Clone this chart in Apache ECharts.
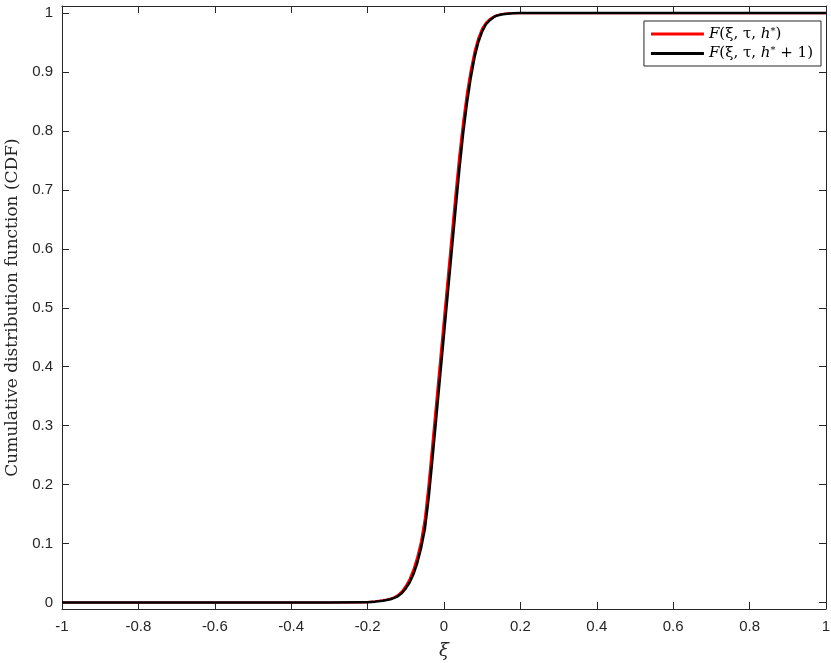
<!DOCTYPE html>
<html>
<head>
<meta charset="utf-8">
<script src="https://cdn.jsdelivr.net/npm/echarts@6/dist/echarts.min.js"></script>
<style>
html,body{margin:0;padding:0;background:#fff;}
#chart{width:831px;height:663px;}
</style>
</head>
<body>
<div id="chart"></div>
<script>
// ---- data ----
var xi = [-1, -0.6, -0.3, -0.22, -0.2, -0.18, -0.16, -0.15, -0.14, -0.13, -0.12, -0.11, -0.1, -0.09, -0.08, -0.07, -0.06, -0.05, -0.04, -0.03, -0.02, -0.01, 0, 0.01, 0.02, 0.03, 0.04, 0.05, 0.06, 0.07, 0.08, 0.09, 0.1, 0.11, 0.12, 0.13, 0.14, 0.15, 0.16, 0.18, 0.2, 0.3, 0.6, 1];
var cdfH = [0, 0, 0, 0.0004, 0.0008, 0.002, 0.0035, 0.0048, 0.0065, 0.009, 0.013, 0.019, 0.028, 0.04, 0.056, 0.077, 0.104, 0.143, 0.203, 0.272, 0.342, 0.412, 0.482, 0.552, 0.622, 0.692, 0.758, 0.815, 0.864, 0.903, 0.935, 0.958, 0.974, 0.984, 0.99, 0.994, 0.9965, 0.998, 0.999, 0.9997, 1, 1, 1, 1];
var cdfH1 = [0, 0, 0, 0.0003, 0.0006, 0.0015, 0.003, 0.0042, 0.0056, 0.0078, 0.011, 0.016, 0.024, 0.034, 0.048, 0.067, 0.092, 0.125, 0.178, 0.245, 0.315, 0.385, 0.455, 0.525, 0.595, 0.665, 0.733, 0.795, 0.847, 0.89, 0.925, 0.951, 0.969, 0.981, 0.988, 0.993, 0.996, 0.9975, 0.9985, 0.9995, 1, 1, 1, 1];
var xTicks = [-1, -0.8, -0.6, -0.4, -0.2, 0, 0.2, 0.4, 0.6, 0.8, 1];
var yTicks = [0, 0.1, 0.2, 0.3, 0.4, 0.5, 0.6, 0.7, 0.8, 0.9, 1];
var seriesNames = ['F(ξ, τ, h*)', 'F(ξ, τ, h* + 1)'];

function pairs(xs, ys){ return xs.map(function(x,i){ return [x, ys[i]]; }); }

var axisColor = '#262626';
var labelFont = {fontFamily: 'Liberation Sans, Arial, sans-serif', fontSize: 15, color: axisColor};

var chart = echarts.init(document.getElementById('chart'), null, {renderer: 'canvas'});
var option = {
  animation: false,
  backgroundColor: '#fff',
  grid: {left: 62, right: 5, top: 6, bottom: 54, containLabel: false, outerBoundsMode: 'none'},
  legend: {
    right: 10, top: 21,
    orient: 'vertical',
    backgroundColor: '#fff',
    borderColor: '#262626', borderWidth: 1,
    padding: [5, 8, 5, 7],
    itemGap: 4,
    itemWidth: 53, itemHeight: 3,
    data: [{name: seriesNames[0], icon: 'rect'}, {name: seriesNames[1], icon: 'rect'}],
    formatter: function(n){
      if (n === seriesNames[0]) return '{i|F}{r|(ξ, τ, }{i|h}{s|*}{r|)}';
      return '{i|F}{r|(ξ, τ, }{i|h}{s|*}{r| + 1)}';
    },
    textStyle: {
      rich: {
        i: {fontFamily: 'DejaVu Serif, Liberation Serif, serif', fontStyle: 'italic', fontSize: 15, color: '#000'},
        r: {fontFamily: 'DejaVu Serif, Liberation Serif, serif', fontSize: 15, color: '#000'},
        s: {fontFamily: 'DejaVu Serif, Liberation Serif, serif', fontSize: 10, color: '#000', verticalAlign: 'top', padding: [0,0,6,0]}
      }
    }
  },
  xAxis: [{
    type: 'value', min: -1, max: 1, interval: 0.2,
    name: 'ξ', nameLocation: 'middle', nameGap: 33,
    nameTextStyle: {fontFamily: 'DejaVu Serif, Liberation Serif, serif', fontStyle: 'italic', fontSize: 18, color: axisColor},
    axisLine: {show: true, onZero: false, lineStyle: {color: axisColor, width: 1}},
    axisTick: {show: true, inside: true, length: 7, lineStyle: {color: axisColor}, customValues: xTicks},
    axisLabel: Object.assign({margin: 10, customValues: xTicks, formatter: function(v){ return String(+v.toFixed(1)); }}, labelFont),
    splitLine: {show: false}
  }, {
    type: 'value', min: -1, max: 1, position: 'top',
    axisLine: {show: true, onZero: false, lineStyle: {color: axisColor, width: 1}},
    axisTick: {show: true, inside: true, length: 7, lineStyle: {color: axisColor}, customValues: xTicks},
    axisLabel: {show: false},
    splitLine: {show: false}
  }],
  yAxis: [{
    type: 'value', min: -0.011, max: 1.012,
    name: 'Cumulative distribution function (CDF)', nameLocation: 'middle', nameGap: 35,
    nameTextStyle: {fontFamily: 'DejaVu Serif, Liberation Serif, serif', fontSize: 17, color: axisColor},
    axisLine: {show: true, onZero: false, lineStyle: {color: axisColor, width: 1}},
    axisTick: {show: true, inside: true, length: 7, lineStyle: {color: axisColor}, customValues: yTicks},
    axisLabel: Object.assign({margin: 9, customValues: yTicks, formatter: function(v){ return String(+v.toFixed(1)); }}, labelFont),
    splitLine: {show: false}
  }, {
    type: 'value', min: -0.011, max: 1.012, position: 'right',
    axisLine: {show: true, onZero: false, lineStyle: {color: axisColor, width: 1}},
    axisTick: {show: true, inside: true, length: 7, lineStyle: {color: axisColor}, customValues: yTicks},
    axisLabel: {show: false},
    splitLine: {show: false}
  }],
  series: [{
    name: seriesNames[0], type: 'line', data: pairs(xi, cdfH),
    showSymbol: false, smooth: false,
    lineStyle: {color: '#ff0000', width: 2.2, join: 'round'}, itemStyle: {color: '#ff0000'}, z: 2
  }, {
    name: seriesNames[1], type: 'line', data: pairs(xi, cdfH1),
    showSymbol: false, smooth: false,
    lineStyle: {color: '#000000', width: 2.5, join: 'round'}, itemStyle: {color: '#000000'}, z: 3
  }]
};
chart.setOption(option);
</script>
</body>
</html>
